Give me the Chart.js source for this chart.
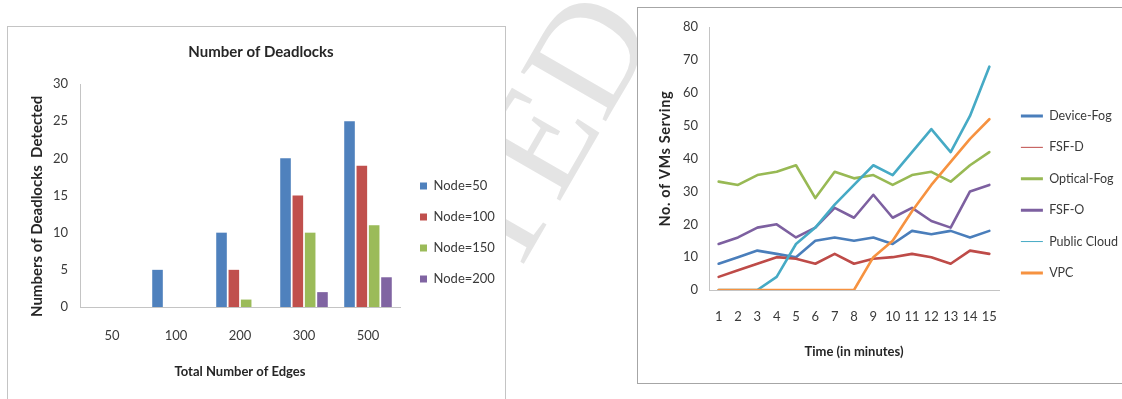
<!DOCTYPE html>
<html>
<head>
<meta charset="utf-8">
<script src="https://cdn.jsdelivr.net/npm/chart.js@4.4.1/dist/chart.umd.min.js"></script>
<style>
  html, body { margin: 0; padding: 0; background: #fff; width: 1122px; height: 399px; overflow: hidden; position: relative; }
  #wm { position: absolute; left: 0; top: 0; }
  .box { position: absolute; background: #fff; box-sizing: border-box; }
  #boxA { left: 7px; top: 26px; width: 499px; height: 430px; border: 1px solid #c4c4c4; }
  #boxB { left: 637px; top: 7px; width: 520px; height: 377px; border: 1px solid #a6a6a6; }
  .box canvas { position: absolute; left: 0; top: 0; }
</style>
</head>
<body>
<canvas id="wm" width="1122" height="399"></canvas>
<div class="box" id="boxA"><canvas id="deadlocks" width="497" height="411"></canvas></div>
<div class="box" id="boxB"><canvas id="vms" width="500" height="375"></canvas></div>
<script>
// ---- Number of deadlocks per edge count ----
const edgeCounts = ['50', '100', '200', '300', '500'];
const node50  = [0, 5, 10, 20, 25];
const node100 = [0, 0, 5, 15, 19];
const node150 = [0, 0, 1, 10, 11];
const node200 = [0, 0, 0, 2, 4];

// ---- VMs serving over time ----
const minutes = ['1','2','3','4','5','6','7','8','9','10','11','12','13','14','15'];
const deviceFog   = [8, 10, 12, 11, 10, 15, 16, 15, 16, 14, 18, 17, 18, 16, 18];
const fsfD        = [4, 6, 8, 10, 9.5, 8, 11, 8, 9.5, 10, 11, 10, 8, 12, 11];
const opticalFog  = [33, 32, 35, 36, 38, 28, 36, 34, 35, 32, 35, 36, 33, 38, 42];
const fsfO        = [14, 16, 19, 20, 16, 19, 25, 22, 29, 22, 25, 21, 19, 30, 32];
const publicCloud = [0, 0, 0, 4, 14, 19, 26, 32, 38, 35, 42, 49, 42, 53, 68];
const vpc         = [0, 0, 0, 0, 0, 0, 0, 0, 10, 15, 24, 32, 39, 46, 52];

const FAMILY = 'Lato';
const TICK = '#3a3a3a';
const AXIS = '#c4c4c4';

// faint diagonal stamp behind the two panels
(function () {
  const ctx = document.getElementById('wm').getContext('2d');
  const size = 150;
  ctx.font = size + 'px "Liberation Serif"';
  const pre = ctx.measureText('ACCEPT').width;
  const eW = ctx.measureText('E').width;
  const ang = -60 * Math.PI / 180;
  const lx = pre + eW / 2, ly = -0.33 * size;
  const cx = 538, cy = 140;
  const ox = cx - (lx * Math.cos(ang) - ly * Math.sin(ang));
  const oy = cy - (lx * Math.sin(ang) + ly * Math.cos(ang));
  ctx.translate(ox, oy);
  ctx.rotate(ang);
  ctx.fillStyle = '#e4e4e4';
  ctx.fillText('ACCEPTED', 0, 0);
})();

// invisible spacer axis that leaves a small gap before the legend
function spacer(width) {
  return {
    position: 'right', display: true,
    ticks: { display: false }, grid: { display: false, drawTicks: false },
    border: { display: false },
    afterFit(s) { s.width = width; }
  };
}

// recentres the chart title on a fixed x
const titleCentre = {
  id: 'titleCentre',
  afterLayout(chart, args, opts) {
    const t = chart.titleBlock;
    if (t && opts.x != null) {
      const d = opts.x - (t.left + t.right) / 2;
      t.left += d; t.right += d;
    }
  }
};

// puts the legend's left edge at a given x by sizing the right padding
function placeLegend(chart, legendLeft) {
  chart.options.layout.padding.right = Math.max(0, chart.width - legendLeft - chart.legend.width);
  chart.update();
}

const deadlockChart = new Chart(document.getElementById('deadlocks'), {
  type: 'bar',
  data: {
    labels: edgeCounts,
    datasets: [
      { label: 'Node=50',  data: node50,  backgroundColor: '#4F81BD' },
      { label: 'Node=100', data: node100, backgroundColor: '#C0504D' },
      { label: 'Node=150', data: node150, backgroundColor: '#9BBB59' },
      { label: 'Node=200', data: node200, backgroundColor: '#8064A2' }
    ]
  },
  plugins: [titleCentre],
  options: {
    responsive: false, animation: false, devicePixelRatio: 1,
    layout: { padding: { left: 0, top: 0, right: 0, bottom: 0 } },
    datasets: { bar: { categoryPercentage: 0.77, barPercentage: 0.86, borderWidth: 0 } },
    plugins: {
      tooltip: { enabled: false },
      titleCentre: { x: 253 },
      title: {
        display: true, text: 'Number of Deadlocks', color: '#262626',
        font: { family: FAMILY, size: 15, weight: 'bold' },
        padding: { top: 16, bottom: 23 }
      },
      legend: {
        position: 'right', maxWidth: 300,
        labels: { boxWidth: 7, boxHeight: 7, padding: 18, color: TICK, font: { family: FAMILY, size: 13 } }
      }
    },
    scales: {
      x: {
        grid: { display: false, drawTicks: false },
        border: { display: true, color: AXIS, width: 1 },
        ticks: { padding: 21.2, color: TICK, font: { family: FAMILY, size: 13 } },
        title: { display: true, text: 'Total Number of Edges', color: '#262626',
                 font: { family: FAMILY, size: 13, weight: 'bold' }, padding: { top: 0, bottom: 58.5 } },
        afterFit(s) { s.height = 131; }
      },
      y: {
        min: 0, max: 30,
        grid: { display: false, drawTicks: false },
        border: { display: true, color: AXIS, width: 1 },
        ticks: { stepSize: 5, padding: 12, color: TICK, font: { family: FAMILY, size: 13 } },
        title: { display: true, text: 'Numbers of Deadlocks  Detected      ', color: '#262626',
                 font: { family: FAMILY, size: 15, weight: 'bold' }, padding: { top: 20, bottom: 0 } },
        afterFit(s) { s.width = 72; }
      },
      gap: spacer(2)
    }
  }
});
placeLegend(deadlockChart, 394);

function series(label, data, color, legendLineWidth, order) {
  return {
    label, data, borderColor: color, backgroundColor: color,
    borderWidth: 2.6, pointRadius: 0, tension: 0, clip: 0,
    borderJoinStyle: 'round', borderCapStyle: 'round',
    legendLineWidth, order
  };
}

const vmChart = new Chart(document.getElementById('vms'), {
  type: 'line',
  data: {
    labels: minutes,
    datasets: [
      series('Device-Fog',   deviceFog,   '#4A7EBB', 3, 6),
      series('FSF-D',        fsfD,        '#BE4B48', 1, 5),
      series('Optical-Fog',  opticalFog,  '#98B954', 3, 4),
      series('FSF-O',        fsfO,        '#7D60A0', 3, 3),
      series('Public Cloud', publicCloud, '#46AAC5', 1, 2),
      series('VPC',          vpc,         '#F69240', 3, 1)
    ]
  },
  options: {
    responsive: false, animation: false, devicePixelRatio: 1,
    layout: { padding: { left: 0, top: 19.3, right: 0, bottom: 21.4 } },
    plugins: {
      tooltip: { enabled: false },
      legend: {
        position: 'right', maxWidth: 300,
        labels: {
          usePointStyle: true, pointStyle: 'line', pointStyleWidth: 22,
          padding: 18.9, color: TICK, font: { family: FAMILY, size: 12.5 },
          sort: (a, b) => a.datasetIndex - b.datasetIndex,
          generateLabels(chart) {
            const items = Chart.defaults.plugins.legend.labels.generateLabels(chart);
            items.forEach(it => { it.lineWidth = chart.data.datasets[it.datasetIndex].legendLineWidth; });
            return items;
          }
        }
      }
    },
    scales: {
      x: {
        offset: true,
        grid: { display: false, drawTicks: false },
        border: { display: true, color: AXIS, width: 1 },
        ticks: { padding: 19.2, color: TICK, font: { family: FAMILY, size: 13 }, maxRotation: 0, autoSkip: false },
        title: { display: true, text: 'Time (in minutes)', color: '#262626',
                 font: { family: FAMILY, size: 13, weight: 'bold' }, padding: { top: 0, bottom: 1.8 } },
        afterFit(s) { s.height = 71.6; }
      },
      y: {
        min: 0, max: 80,
        grid: { display: false, drawTicks: false },
        border: { display: true, color: AXIS, width: 1 },
        ticks: { stepSize: 10, padding: 11, color: TICK, font: { family: FAMILY, size: 13 } },
        title: { display: true, text: 'No. of VMs Serving', color: '#262626',
                 font: { family: FAMILY, size: 14.5, weight: 'bold' }, padding: { top: 18.5, bottom: 0 } },
        afterFit(s) { s.width = 71; }
      },
      gap: spacer(3)
    }
  }
});

// slightly tracked-out lettering for the value-axis caption
const vmY = vmChart.scales.y;
const baseDrawTitle = vmY.drawTitle;
vmY.drawTitle = function () {
  const c = this.ctx;
  const prev = c.letterSpacing;
  c.letterSpacing = '0.6px';
  baseDrawTitle.call(this);
  c.letterSpacing = prev;
};
placeLegend(vmChart, 364);
</script>
</body>
</html>
